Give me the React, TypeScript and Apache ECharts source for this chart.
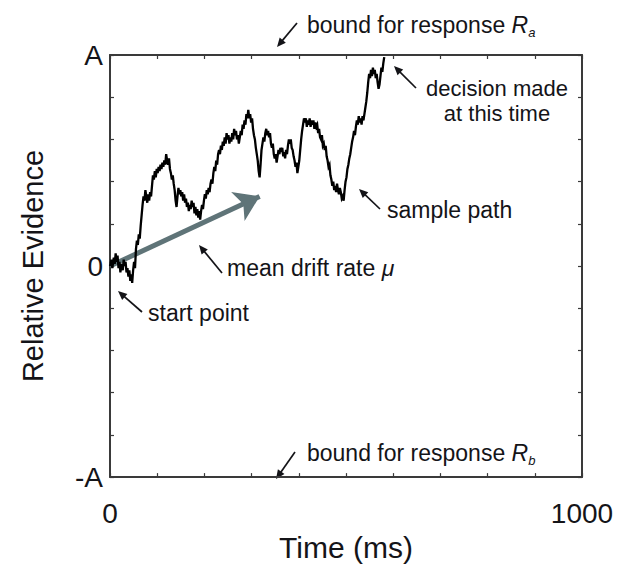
import React, { useEffect, useRef } from "react";
import * as echarts from "echarts";

// Sample path of the diffusion process: [time (ms), relative evidence (A units)]
const samplePath: [number, number][] = [
  [0, 0.0], [3, 0.03], [5, -0.01], [8, 0.04], [10, 0.01], [12, 0.06], [14, 0.02], [16, 0.05], [18, -0.01], [20, 0.02],
  [22, -0.03], [24, 0.01], [27, -0.02], [29, 0.03], [31, 0.0], [33, 0.02], [35, -0.03], [37, -0.01], [39, -0.05], [41, -0.02],
  [43, -0.07], [45, -0.04], [47, -0.08], [49, -0.02], [51, 0.02], [53, -0.01], [55, 0.08], [57, 0.12], [59, 0.1], [61, 0.15],
  [63, 0.13], [65, 0.19], [67, 0.24], [69, 0.29], [71, 0.33], [73, 0.31], [75, 0.36], [77, 0.33], [79, 0.3], [81, 0.34],
  [83, 0.31], [85, 0.35], [87, 0.33], [89, 0.38], [91, 0.43], [93, 0.41], [95, 0.45], [97, 0.42], [99, 0.46], [101, 0.44],
  [103, 0.47], [105, 0.45], [107, 0.48], [109, 0.46], [111, 0.49], [113, 0.47], [115, 0.5], [117, 0.48], [119, 0.53], [121, 0.5],
  [123, 0.48], [125, 0.51], [127, 0.46], [129, 0.44], [131, 0.41], [133, 0.43], [135, 0.39], [137, 0.36], [139, 0.31], [141, 0.28],
  [143, 0.33], [145, 0.37], [147, 0.34], [149, 0.36], [151, 0.33], [153, 0.35], [155, 0.31], [157, 0.34], [159, 0.3], [161, 0.32],
  [163, 0.28], [165, 0.3], [167, 0.26], [169, 0.29], [171, 0.27], [173, 0.31], [175, 0.28], [177, 0.3], [179, 0.25], [181, 0.28],
  [183, 0.24], [185, 0.27], [187, 0.23], [189, 0.26], [191, 0.22], [193, 0.26], [195, 0.29], [197, 0.27], [199, 0.31], [201, 0.34],
  [203, 0.32], [205, 0.36], [207, 0.34], [209, 0.37], [211, 0.35], [213, 0.39], [215, 0.41], [217, 0.39], [219, 0.44], [221, 0.47],
  [223, 0.45], [225, 0.5], [227, 0.48], [229, 0.53], [231, 0.55], [233, 0.53], [235, 0.57], [237, 0.55], [239, 0.59], [241, 0.57],
  [243, 0.61], [245, 0.58], [247, 0.63], [249, 0.6], [251, 0.62], [253, 0.58], [255, 0.61], [257, 0.59], [259, 0.63], [261, 0.6],
  [263, 0.65], [265, 0.62], [267, 0.64], [269, 0.6], [271, 0.62], [273, 0.58], [275, 0.61], [277, 0.64], [279, 0.62], [281, 0.67],
  [283, 0.65], [285, 0.69], [287, 0.67], [289, 0.72], [291, 0.7], [293, 0.74], [295, 0.7], [297, 0.72], [299, 0.68], [301, 0.7],
  [303, 0.65], [305, 0.62], [307, 0.6], [309, 0.56], [311, 0.53], [313, 0.5], [315, 0.45], [317, 0.42], [319, 0.48], [321, 0.55],
  [323, 0.58], [325, 0.61], [327, 0.59], [329, 0.63], [331, 0.65], [333, 0.62], [335, 0.64], [337, 0.61], [339, 0.63], [341, 0.58],
  [343, 0.56], [345, 0.58], [347, 0.53], [349, 0.51], [351, 0.53], [353, 0.49], [355, 0.52], [357, 0.55], [359, 0.53], [361, 0.56],
  [363, 0.54], [365, 0.56], [367, 0.52], [369, 0.54], [371, 0.51], [373, 0.55], [375, 0.53], [377, 0.57], [379, 0.6], [381, 0.58],
  [383, 0.6], [385, 0.56], [387, 0.55], [389, 0.52], [391, 0.5], [393, 0.47], [395, 0.49], [397, 0.44], [399, 0.47], [401, 0.5],
  [403, 0.55], [405, 0.6], [407, 0.64], [409, 0.67], [411, 0.7], [413, 0.68], [415, 0.7], [417, 0.66], [419, 0.69], [421, 0.67],
  [423, 0.7], [425, 0.66], [427, 0.69], [429, 0.67], [431, 0.69], [433, 0.65], [435, 0.68], [437, 0.66], [439, 0.67], [441, 0.63],
  [443, 0.65], [445, 0.61], [447, 0.6], [449, 0.62], [451, 0.57], [453, 0.58], [455, 0.55], [457, 0.57], [459, 0.52], [461, 0.5],
  [463, 0.47], [465, 0.48], [467, 0.43], [469, 0.41], [471, 0.38], [473, 0.4], [475, 0.36], [477, 0.38], [479, 0.35], [481, 0.39],
  [483, 0.36], [485, 0.34], [487, 0.37], [489, 0.35], [491, 0.32], [493, 0.33], [495, 0.31], [497, 0.36], [499, 0.4], [501, 0.42],
  [503, 0.46], [505, 0.48], [507, 0.51], [509, 0.53], [511, 0.56], [513, 0.59], [515, 0.61], [517, 0.64], [519, 0.62], [521, 0.66],
  [523, 0.69], [525, 0.67], [527, 0.71], [529, 0.68], [531, 0.7], [533, 0.67], [535, 0.71], [537, 0.69], [539, 0.72], [541, 0.75],
  [543, 0.78], [545, 0.82], [547, 0.87], [549, 0.91], [551, 0.89], [553, 0.93], [555, 0.9], [557, 0.94], [559, 0.91], [561, 0.93],
  [563, 0.89], [565, 0.91], [567, 0.87], [569, 0.84], [571, 0.86], [573, 0.9], [575, 0.94], [577, 0.92], [579, 0.96], [581, 0.99],
];

// Mean drift rate arrow (start and end, data units)
const driftStart: [number, number] = [0, 0];
const driftEnd: [number, number] = [317, 0.33];

// Axis ranges and tick labels
const timeRange = [0, 1000];
const evidenceRange = [-1, 1];
const xTickLabels = [0, 1000];
const yTickLabels: [number, string][] = [
  [1, "A"],
  [0, "0"],
  [-1, "-A"],
];

const FONT = "'Liberation Sans', Arial, Helvetica, sans-serif";
const INK = "#141418";
const FRAME = "#3a3a3a";
const ANN = 23;

function arrow(x1: number, y1: number, x2: number, y2: number) {
  const dx = x2 - x1;
  const dy = y2 - y1;
  const len = Math.sqrt(dx * dx + dy * dy);
  const ux = dx / len;
  const uy = dy / len;
  const nx = -uy;
  const ny = ux;
  const hl = 9;
  const hw = 4;
  return [
    {
      type: "line",
      shape: { x1, y1, x2: x2 - ux * 5, y2: y2 - uy * 5 },
      style: { stroke: INK, lineWidth: 1.7 },
      silent: true,
    },
    {
      type: "polygon",
      shape: {
        points: [
          [x2, y2],
          [x2 - ux * hl + nx * hw, y2 - uy * hl + ny * hw],
          [x2 - ux * hl - nx * hw, y2 - uy * hl - ny * hw],
        ],
      },
      style: { fill: INK },
      silent: true,
    },
  ];
}

function label(text: string, x: number, y: number, align: string = "left", size: number = ANN) {
  return {
    type: "text",
    x,
    y,
    silent: true,
    style: {
      text,
      fill: INK,
      fontSize: size,
      fontFamily: FONT,
      lineHeight: size,
      align,
      verticalAlign: "middle",
    },
  };
}

const richStyles = {
  n: { fontSize: ANN, fontFamily: FONT, fill: INK, color: INK, lineHeight: 28 },
  i: { fontSize: ANN, fontFamily: FONT, fontStyle: "italic", fill: INK, color: INK, lineHeight: 28 },
  s: { fontSize: 13, fontFamily: FONT, fontStyle: "italic", fill: INK, color: INK, lineHeight: 28, verticalAlign: "bottom" },
};

function richLabel(text: string, x: number, y: number) {
  return {
    type: "text",
    x,
    y,
    silent: true,
    style: { text, rich: richStyles, verticalAlign: "middle", align: "left", fill: INK },
  };
}

export default function App() {
  const ref = useRef<HTMLDivElement>(null);

  useEffect(() => {
    if (!ref.current) return;
    const chart = echarts.init(ref.current, undefined, { renderer: "svg" });

    const yLabelOf = (v: number) => {
      for (const [val, txt] of yTickLabels) {
        if (Math.abs(v - val) < 1e-6) return txt;
      }
      return "";
    };
    const xLabelOf = (v: number) => (xTickLabels.some((t) => Math.abs(t - v) < 1e-6) ? String(v) : "");

    const axisLine = { show: true, onZero: false, lineStyle: { color: FRAME, width: 2 } };
    const axisTick = { show: true, inside: true, length: 4, lineStyle: { color: FRAME, width: 1.2 } };

    const option: any = {
      animation: false,
      backgroundColor: "#ffffff",
      grid: { left: 110, top: 55, width: 472, height: 433, containLabel: false },
      xAxis: [
        {
          type: "value",
          min: timeRange[0],
          max: timeRange[1],
          interval: 100,
          position: "bottom",
          axisLine,
          axisTick,
          splitLine: { show: false },
          axisLabel: {
            formatter: xLabelOf,
            fontSize: 28,
            fontFamily: FONT,
            color: INK,
            margin: 22,
            showMinLabel: true,
            showMaxLabel: true,
            hideOverlap: false,
          },
          name: "Time (ms)",
          nameLocation: "middle",
          nameGap: 48,
          nameTextStyle: { fontSize: 30, fontFamily: FONT, color: INK },
        },
        {
          type: "value",
          min: timeRange[0],
          max: timeRange[1],
          interval: 100,
          position: "top",
          axisLine,
          axisTick,
          splitLine: { show: false },
          axisLabel: { show: false },
        },
      ],
      yAxis: [
        {
          type: "value",
          min: evidenceRange[0],
          max: evidenceRange[1],
          interval: 0.2,
          position: "left",
          axisLine,
          axisTick,
          splitLine: { show: false },
          axisLabel: {
            formatter: yLabelOf,
            fontSize: 28,
            fontFamily: FONT,
            color: INK,
            margin: 7,
            showMinLabel: true,
            showMaxLabel: true,
          },
          name: "Relative Evidence",
          nameLocation: "middle",
          nameGap: 63,
          nameTextStyle: { fontSize: 29, fontFamily: FONT, color: INK },
        },
        {
          type: "value",
          min: evidenceRange[0],
          max: evidenceRange[1],
          interval: 0.2,
          position: "right",
          axisLine,
          axisTick,
          splitLine: { show: false },
          axisLabel: { show: false },
        },
      ],
      series: [
        {
          type: "lines",
          coordinateSystem: "cartesian2d",
          xAxisIndex: 0,
          yAxisIndex: 0,
          z: 2,
          symbol: ["none", "arrow"],
          symbolSize: 24,
          lineStyle: { color: "#5f7478", width: 5, opacity: 1, curveness: 0 },
          data: [{ coords: [driftStart, driftEnd] }],
          silent: true,
        },
        {
          type: "line",
          xAxisIndex: 0,
          yAxisIndex: 0,
          z: 3,
          data: samplePath,
          showSymbol: false,
          symbol: "none",
          lineStyle: { color: "#000000", width: 2.3, join: "miter" },
          silent: true,
        },
      ],
      graphic: [
        ...arrow(297, 23, 277, 47),
        richLabel("{n|bound for response }{i|R}{s|a}", 307, 25),
        ...arrow(416, 88, 394, 66),
        label("decision made", 497, 88, "center", 22),
        label("at this time", 497, 113, "center", 22),
        ...arrow(380, 209, 359, 189),
        label("sample path", 387, 210),
        ...arrow(222, 273, 199, 245),
        richLabel("{n|mean drift rate }{i|μ}", 227, 268),
        ...arrow(142, 312, 118, 291),
        label("start point", 148, 313),
        ...arrow(295, 452, 276, 479),
        richLabel("{n|bound for response }{i|R}{s|b}", 307, 453),
      ],
    };

    chart.setOption(option);
    return () => chart.dispose();
  }, []);

  return (
    <div
      ref={ref}
      style={{ position: "fixed", left: 0, top: 0, width: 619, height: 567, background: "#fff" }}
    />
  );
}
